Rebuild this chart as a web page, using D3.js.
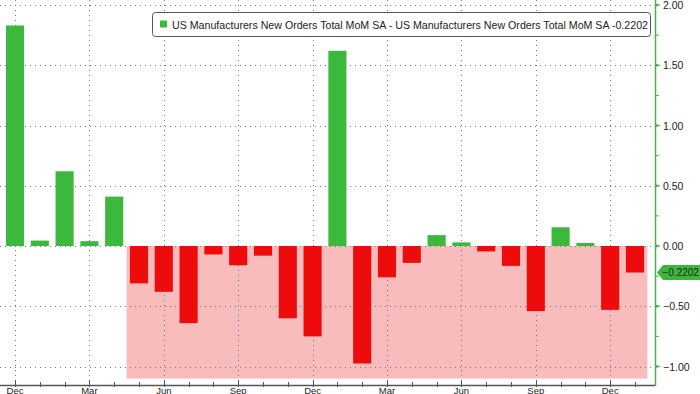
<!DOCTYPE html>
<html>
<head>
<meta charset="utf-8">
<script src="https://cdn.jsdelivr.net/npm/d3@7"></script>
<style>
	body { margin: 0; background: #fff; }
	svg { display: block; font-family: "Liberation Sans", Arial, sans-serif; }
</style>
</head>
<body>
<svg id="chart" width="700" height="394"></svg>
<script>
"use strict";

// Data: monthly MoM change, Dec to Jan two years later
const months = ["Dec", "Jan", "Feb", "Mar", "Apr", "May", "Jun", "Jul", "Aug", "Sep", "Oct", "Nov",
	"Dec", "Jan", "Feb", "Mar", "Apr", "May", "Jun", "Jul", "Aug", "Sep", "Oct", "Nov", "Dec", "Jan"];
const values = [1.83, 0.045, 0.62, 0.04, 0.41, -0.31, -0.38, -0.64, -0.07, -0.16, -0.08, -0.6,
	-0.75, 1.62, -0.975, -0.26, -0.14, 0.09, 0.03, -0.045, -0.165, -0.54, 0.155, 0.025, -0.53, -0.2202];
const yTicks = [-1, -0.5, 0, 0.5, 1, 1.5, 2];
const yMinorTicks = [-0.75, -0.25, 0.25, 0.75, 1.25, 1.75];
const shadeFrom = 5; // month index where shaded band starts
const shadeLow = -1.1;
const lastValue = -0.2202;
const legendText = "US Manufacturers New Orders Total MoM SA - US Manufacturers New Orders Total MoM SA -0.2202";

const green = "#3cb83c";
const red = "#ee0b0b";
const pink = "#f8bcbd";

var svg = d3.select("#chart");
var axisX = 655, axisY = 385;

var idx = d3.range(values.length);

var x = d3.scaleBand()
	.domain(idx)
	.range([2.6, 647.4])
	.paddingInner(0.27)
	.paddingOuter(0.135);

var y = d3.scaleLinear()
	.domain([-1, 2])
	.range([366.5, 5]);

// Shaded band behind the bars
var step = x.step();
svg.append("rect")
	.attr("x", x.range()[0] + shadeFrom * step)
	.attr("y", y(0))
	.attr("width", x.range()[1] - (x.range()[0] + shadeFrom * step))
	.attr("height", y(shadeLow) - y(0))
	.style("fill", pink);

// Gridlines
var grid = svg.append("g").attr("class", "grid");
grid.selectAll("line.h")
	.data(yTicks)
	.enter()
	.append("line")
	.attr("x1", 0)
	.attr("x2", axisX - 3)
	.attr("y1", function(d) { return Math.round(y(d)) + 0.5; })
	.attr("y2", function(d) { return Math.round(y(d)) + 0.5; })
	.style("stroke", "#777")
	.style("stroke-width", 1)
	.style("stroke-dasharray", "1,4");

var quarters = idx.filter(function(i) { return i % 3 == 0; });
grid.selectAll("line.v")
	.data(quarters)
	.enter()
	.append("line")
	.attr("x1", function(d) { return Math.round(x(d) + x.bandwidth() / 2) + 0.5; })
	.attr("x2", function(d) { return Math.round(x(d) + x.bandwidth() / 2) + 0.5; })
	.attr("y1", 0)
	.attr("y2", axisY)
	.style("stroke", "#777")
	.style("stroke-width", 1)
	.style("stroke-dasharray", "1,4");

// Bars
svg.append("g")
	.selectAll("rect")
	.data(values)
	.enter()
	.append("rect")
	.attr("x", function(d, i) { return x(i); })
	.attr("width", x.bandwidth())
	.attr("y", function(d) { return y(Math.max(0, d)); })
	.attr("height", function(d) { return Math.abs(y(d) - y(0)); })
	.style("fill", function(d) { return d >= 0 ? green : red; });

// Bottom axis
var bottom = svg.append("g");
bottom.append("line")
	.attr("x1", 0)
	.attr("x2", axisX)
	.attr("y1", axisY + 0.5)
	.attr("y2", axisY + 0.5)
	.style("stroke", "#555")
	.style("stroke-width", 1.5);

bottom.selectAll("line.tick")
	.data(idx)
	.enter()
	.append("line")
	.attr("x1", function(d) { return Math.round(x(d) + x.bandwidth() / 2) + 0.5; })
	.attr("x2", function(d) { return Math.round(x(d) + x.bandwidth() / 2) + 0.5; })
	.attr("y1", function(d) { return d % 3 == 0 ? axisY - 5 : axisY - 3; })
	.attr("y2", axisY + 2)
	.style("stroke", "#555");

bottom.selectAll("text")
	.data(quarters)
	.enter()
	.append("text")
	.attr("x", function(d) { return x(d) + x.bandwidth() / 2; })
	.attr("y", axisY + 8.5)
	.attr("text-anchor", "middle")
	.style("font-size", "9.5px")
	.style("fill", "#222")
	.text(function(d) { return months[d]; });

// Right axis
var right = svg.append("g");
right.append("line")
	.attr("x1", axisX + 0.5)
	.attr("x2", axisX + 0.5)
	.attr("y1", 0)
	.attr("y2", axisY + 1)
	.style("stroke", "#4caf50")
	.style("stroke-width", 1.5);

right.selectAll("path.major")
	.data(yTicks)
	.enter()
	.append("path")
	.attr("d", function(d) {
		var ty = y(d);
		return "M" + (axisX + 1) + "," + (ty - 1.5) + "L" + (axisX + 6) + "," + ty + "L" + (axisX + 1) + "," + (ty + 1.5) + "Z";
	})
	.style("fill", "#4caf50");

right.selectAll("line.minor")
	.data(yMinorTicks)
	.enter()
	.append("line")
	.attr("x1", axisX + 1)
	.attr("x2", axisX + 4)
	.attr("y1", function(d) { return y(d); })
	.attr("y2", function(d) { return y(d); })
	.style("stroke", "#4caf50");

right.selectAll("text")
	.data(yTicks)
	.enter()
	.append("text")
	.attr("x", axisX + 8)
	.attr("y", function(d) { return y(d) + 4; })
	.style("font-size", "10.5px")
	.style("fill", "#222")
	.text(function(d) { return d3.format(".2f")(d); });

// Current value tag
var tagY = y(lastValue);
right.append("path")
	.attr("d", "M" + (axisX + 2) + "," + tagY +
		"L" + (axisX + 8) + "," + (tagY - 7.5) +
		"L700," + (tagY - 7.5) +
		"L700," + (tagY + 7.5) +
		"L" + (axisX + 8) + "," + (tagY + 7.5) + "Z")
	.style("fill", "#3db53d");
right.append("text")
	.attr("x", axisX + 7.5)
	.attr("y", tagY + 3.5)
	.style("font-size", "10px")
	.style("fill", "#1b2a1b")
	.text(d3.format(".4f")(lastValue));

// Legend
var legend = svg.append("g");
legend.append("rect")
	.attr("x", 152.5)
	.attr("y", 12.5)
	.attr("width", 498)
	.attr("height", 24)
	.attr("rx", 3)
	.style("fill", "#fff")
	.style("stroke", "#555");
legend.append("rect")
	.attr("x", 160)
	.attr("y", 20.5)
	.attr("width", 7)
	.attr("height", 7)
	.style("fill", green);
legend.append("text")
	.attr("x", 172)
	.attr("y", 28.5)
	.attr("textLength", 476)
	.attr("lengthAdjust", "spacingAndGlyphs")
	.style("font-size", "11px")
	.style("fill", "#222")
	.text(legendText);
</script>
</body>
</html>
